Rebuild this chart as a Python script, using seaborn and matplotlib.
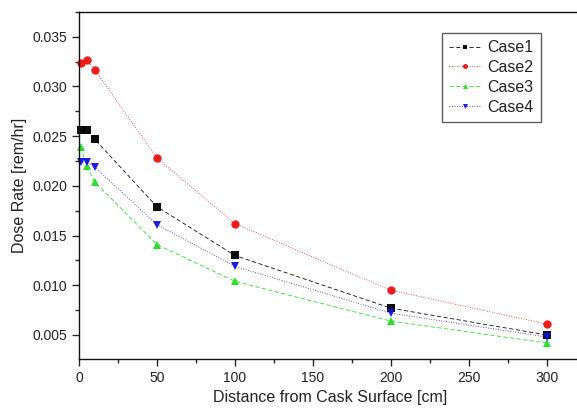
import pandas as pd
import seaborn as sns
import matplotlib.pyplot as plt
from matplotlib.ticker import MultipleLocator

distance = [1, 5, 10, 50, 100, 200, 300]
case1 = [0.0256, 0.0256, 0.0247, 0.0179, 0.0130, 0.0077, 0.0050]
case2 = [0.0324, 0.0327, 0.0317, 0.0228, 0.0162, 0.0095, 0.0061]
case3 = [0.0239, 0.0220, 0.0204, 0.0141, 0.0104, 0.0064, 0.0042]
case4 = [0.0224, 0.0224, 0.0219, 0.0161, 0.0119, 0.0072, 0.0048]
names = ["Case1", "Case2", "Case3", "Case4"]

rows = []
for name, vals in zip(names, [case1, case2, case3, case4]):
    for d, v in zip(distance, vals):
        rows.append({"Distance": d, "Dose": v, "Case": name})
df = pd.DataFrame(rows)

sns.set_theme(style="ticks")
plt.rcParams['font.family'] = ['Liberation Sans', 'DejaVu Sans']

colors = {"Case1": "#000000", "Case2": "#ee1111", "Case3": "#22dd22", "Case4": "#1111dd"}
markers = {"Case1": "s", "Case2": "o", "Case3": "^", "Case4": "v"}
dashes = {"Case1": (5, 3), "Case2": (1, 2), "Case3": (5, 3), "Case4": (1, 2)}

fig = plt.figure(figsize=(5.77, 4.12), dpi=100)
ax = fig.add_axes([0.137, 0.129, 0.87, 0.842])

sns.lineplot(data=df, x="Distance", y="Dose", hue="Case", style="Case",
             palette=colors, markers=markers, dashes=dashes,
             markersize=6, markeredgewidth=0, linewidth=0.6, alpha=0.95,
             ax=ax, clip_on=False)

ax.set_xlim(0, 322)
ax.set_ylim(0.0026, 0.0375)
ax.xaxis.set_major_locator(MultipleLocator(50))
ax.xaxis.set_minor_locator(MultipleLocator(25))
ax.yaxis.set_minor_locator(MultipleLocator(0.0025))
ax.set_yticks([0.005, 0.010, 0.015, 0.020, 0.025, 0.030, 0.035])
ax.set_yticklabels(["0.005", "0.010", "0.015", "0.020", "0.025", "0.030", "0.035"])
ax.tick_params(which="major", direction="out", length=5, width=1, labelsize=10,
               labelcolor="#222222", top=False, right=False)
ax.tick_params(which="minor", direction="out", length=3, width=1, top=False, right=False)
for s in ax.spines.values():
    s.set_linewidth(1.0)
    s.set_color("#111111")

ax.set_xlabel("Distance from Cask Surface [cm]", fontsize=11.5, color="#222222")
ax.set_ylabel("Dose Rate [rem/hr]", fontsize=11.5, color="#222222")

leg = ax.legend(loc="upper left", bbox_to_anchor=(0.723, 0.939), borderaxespad=0,
                fontsize=11.5, frameon=True, fancybox=False, handlelength=2.0,
                borderpad=0.45, labelspacing=0.3, handletextpad=0.4, markerscale=0.6)
leg.get_frame().set_edgecolor("#333333")
leg.get_frame().set_linewidth(1.0)
for t in leg.get_texts():
    t.set_color("#222222")

fig.savefig("out.png", dpi=100)
